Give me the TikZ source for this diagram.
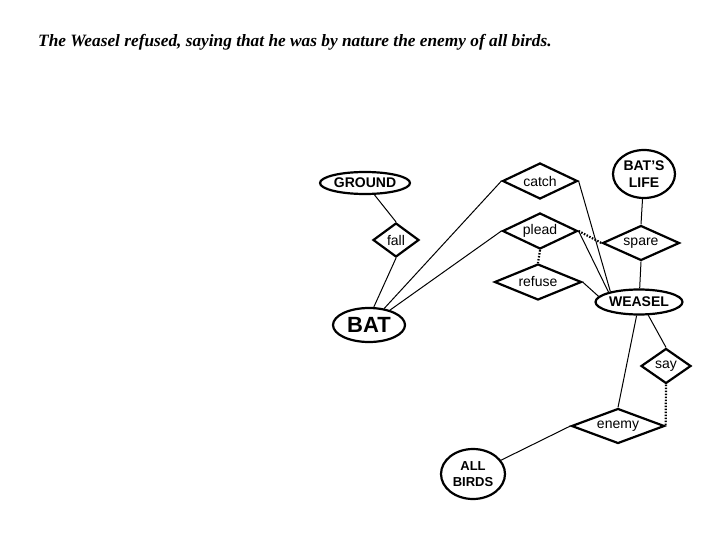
\documentclass[tikz,border=0pt]{standalone}
\usepackage{fontspec}
\setmainfont{Liberation Sans}
\newfontfamily\titlefont{Liberation Serif}
\usetikzlibrary{shapes.geometric}

\begin{document}
\begin{tikzpicture}[x=1pt, y=-1pt,
    ell/.style={draw, ellipse, line width=2.2pt, inner sep=0pt,
                align=center, font=\bfseries\fontsize{14}{17}\selectfont},
    dia/.style={draw, diamond, shape aspect=2, line width=2.2pt,
                inner sep=0pt, font=\fontsize{14}{17}\selectfont},
    lnk/.style={line width=1pt},
    dlnk/.style={line width=2.2pt, dash pattern=on 1.5pt off 1.5pt}
    ]
    \useasboundingbox (0,0) rectangle (720,540);

    \node[anchor=west, inner sep=0pt,
          font=\titlefont\bfseries\itshape\fontsize{17.3}{20}\selectfont] (title) at (38,42)
      {The Weasel refused, saying that he was by nature the enemy of all birds.};

    % things
    \node[ell, minimum width=90pt, minimum height=22pt] (ground) at (365,183) {GROUND};
    \node[ell, minimum width=62pt, minimum height=48pt] (life)   at (644,174) {BAT'S\\LIFE};
    \node[ell, minimum width=87pt, minimum height=25pt] (weasel) at (639,302) {WEASEL};
    \node[ell, minimum width=72pt, minimum height=34pt,
          font=\bfseries\fontsize{22}{26}\selectfont]   (bat)    at (369,325) {BAT};
    \node[ell, minimum width=64pt, minimum height=50pt,
          font=\bfseries\fontsize{13}{16}\selectfont]   (birds)  at (473,474) {ALL\\BIRDS};

    % actions
    \node[dia, minimum width=46pt, minimum height=34pt] (fall)   at (396,240) {fall};
    \node[dia, minimum width=75pt, minimum height=36pt] (catch)  at (540,181) {catch};
    \node[dia, minimum width=75pt, minimum height=36pt] (plead)  at (540,231) {plead};
    \node[dia, minimum width=87pt, minimum height=36pt] (refuse) at (538,282) {refuse};
    \node[dia, minimum width=77pt, minimum height=35pt] (spare)  at (641,243) {spare};
    \node[dia, minimum width=50pt, minimum height=35pt] (say)    at (666,366) {say};
    \node[dia, minimum width=93pt, minimum height=35pt] (enemy)  at (618,426) {enemy};

    \draw[lnk] (ground) -- (fall.north);
    \draw[lnk] (fall.south) -- (bat.75);
    \draw[lnk] (bat) -- (catch.west);
    \draw[lnk] (bat) -- (plead.west);
    \draw[lnk] (catch.east) -- (weasel.160);
    \draw[lnk] (plead.east) -- (weasel.162);
    \draw[lnk] (refuse.east) -- (weasel.172);
    \draw[dlnk] (plead.south) -- (refuse.north);
    \draw[dlnk] (plead.east) -- (spare.west);
    \draw[lnk] (life) -- (spare.north);
    \draw[lnk] (spare.south) -- (weasel);
    \draw[lnk] (weasel.-55) -- (say.north);
    \draw[lnk] (weasel.-100) -- (enemy.north);
    \draw[dlnk] (say.south) -- (enemy.east);
    \draw[lnk] (enemy.west) -- (birds);
\end{tikzpicture}
\end{document}
